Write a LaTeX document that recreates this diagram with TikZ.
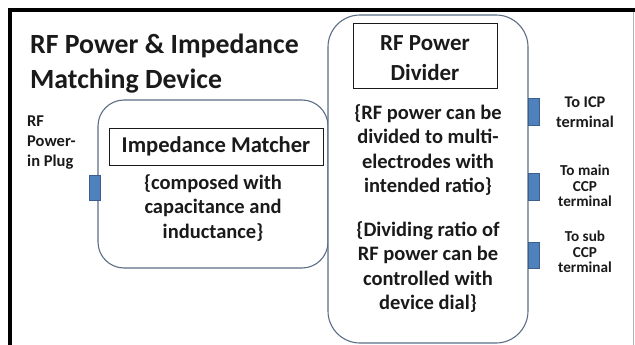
\documentclass[tikz,border=0pt]{standalone}
\usepackage{fontspec}
\setmainfont{Carlito}
\usepackage{xcolor}
\definecolor{deviceink}{HTML}{1A1A1A}
\definecolor{deviceline}{HTML}{5B6E86}
\definecolor{plugfill}{HTML}{4F81BD}
\definecolor{plugedge}{HTML}{3A5F8C}
\newcommand{\fsz}[2]{\fontsize{#1}{#2}\selectfont\bfseries}

\begin{document}
\begin{tikzpicture}[x=1pt, y=-1pt,
                    every node/.style={deviceink, inner sep=0pt},
                    roundbox/.style={draw=deviceline, line width=1.1pt, fill=white},
                    titlebox/.style={draw=deviceink, line width=0.6pt, fill=white},
                    plug/.style={draw=plugedge, line width=0.6pt, fill=plugfill,
                                 minimum width=11pt},
                    bodytext/.style={align=center, font=\fsz{20.5}{24.3}},
                    sidetext/.style={align=center, font=\fsz{15.2}{15.3}}]

  \useasboundingbox (0,0) rectangle (635,345);

  %% 外框: 只有上邊與左邊是粗黑線，右邊一條細灰線
  \draw[black, line width=4pt] (9.5,345) -- (9.5,10) -- (635,10);
  \draw[gray!60, line width=0.8pt] (633,12) -- (633,345);

  %% ---- 標題 ----
  \node[anchor=north west, align=left, font=\fsz{27.8}{35}] (title) at (30,34)
    {RF Power \& Impedance\\Matching Device};

  %% ---- 左邊: 阻抗匹配器 ----
  \node[roundbox, rounded corners=26pt, minimum width=230pt, minimum height=168pt]
    (matcher) at (213,184) {};
  \node[titlebox, minimum width=214pt, minimum height=37pt, font=\fsz{22.6}{24}]
    (matchertitle) at (216,146.5) {Impedance Matcher};
  \node[bodytext] (matchertext) at (213,208)
    {\{composed with\\capacitance and\\inductance\}};

  %% ---- 右邊: 功率分配器 ----
  \node[roundbox, rounded corners=32pt, minimum width=200pt, minimum height=328pt]
    (divider) at (428,179) {};
  \node[titlebox, minimum width=144pt, minimum height=65pt]
    (dividertitle) at (425,55.5) {};
  \node[align=center, font=\fsz{23}{30}] (dividername) at (425,58.5)
    {RF Power\\Divider};
  \node[bodytext] (dividertext) at (428,150)
    {\{RF power can be\\divided to multi-\\electrodes with\\intended ratio\}};
  \node[bodytext] (dialtext) at (428,267)
    {\{Dividing ratio of\\RF power can be\\controlled with\\device dial\}};

  %% ---- 插頭與端子 ----
  \node[plug, minimum height=25pt] (plugin) at (94.5,187.5) {};
  \node[anchor=west, align=left, font=\fsz{16.5}{20}] (pluglabel) at (27,143)
    {RF\\Power-\\in Plug};

  \node[plug, minimum height=27pt] (icpplug) at (533.5,111.5) {};
  \node[plug, minimum height=27pt] (mainplug) at (533.5,186.5) {};
  \node[plug, minimum height=26pt] (subplug) at (533.5,255) {};

  \node[sidetext, font=\fsz{16.3}{20}] (icplabel) at (585,112) {To ICP\\terminal};
  \node[sidetext] (mainlabel) at (585,186) {To main\\CCP\\terminal};
  \node[sidetext] (sublabel) at (585,252) {To sub\\CCP\\terminal};

\end{tikzpicture}
\end{document}
